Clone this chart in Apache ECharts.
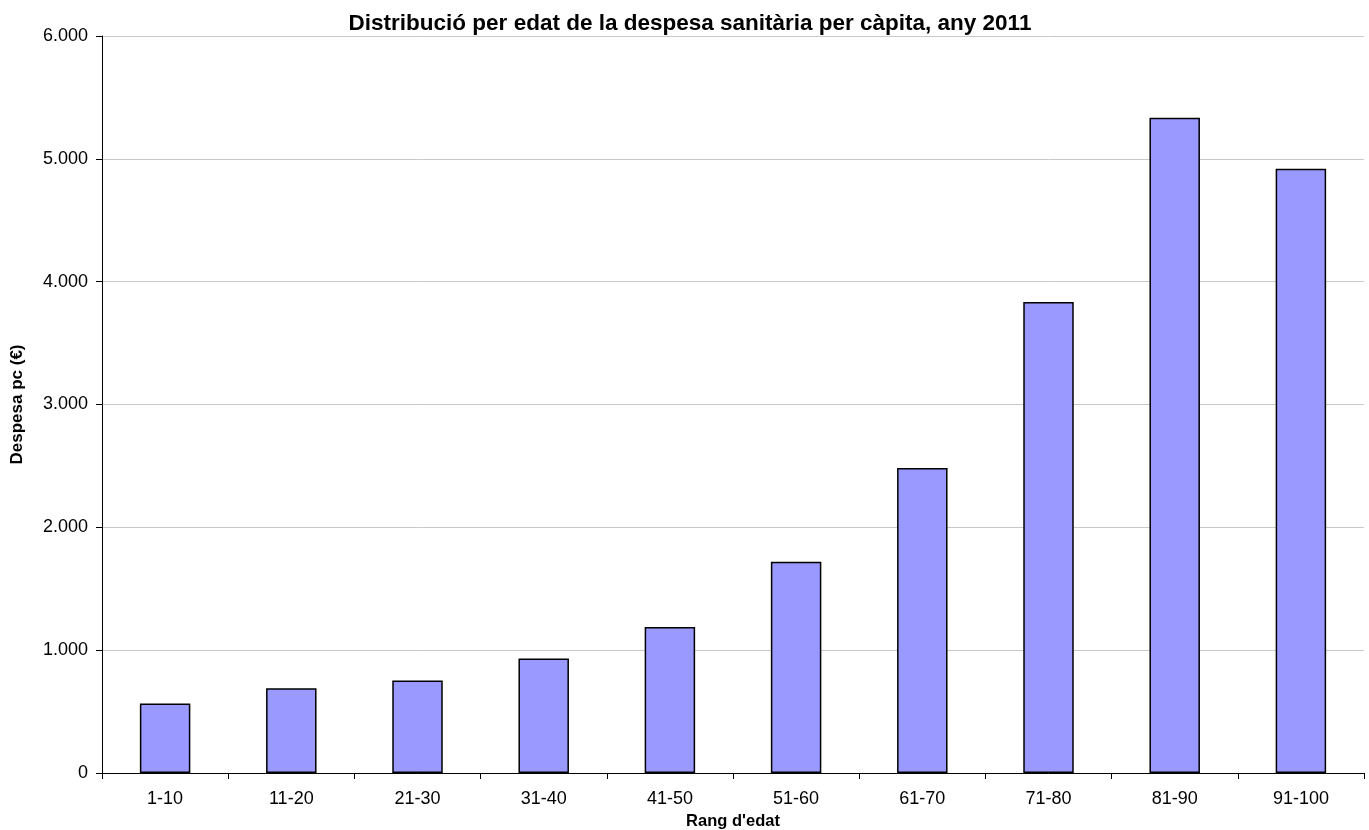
<!DOCTYPE html>
<html>
<head>
<meta charset="utf-8">
<script src="https://cdn.jsdelivr.net/npm/echarts@6/dist/echarts.min.js"></script>
<style>
html,body{margin:0;padding:0;background:#fff;}
#chart{width:1369px;height:830px;}
</style>
</head>
<body>
<div id="chart"></div>
<script>
const categories = ['1-10','11-20','21-30','31-40','41-50','51-60','61-70','71-80','81-90','91-100'];
const values = [565, 689, 754, 932, 1188, 1720, 2483, 3835, 5334, 4919];
const titleText = 'Distribució per edat de la despesa sanitària per càpita, any 2011';
const yName = 'Despesa pc (€)';
const xName = "Rang d'edat";

const chart = echarts.init(document.getElementById('chart'), null, {renderer:'canvas'});
const fontFam = '"Liberation Sans", Arial, sans-serif';
chart.setOption({
  animation:false,
  backgroundColor:'#fff',
  title:{
    text:titleText,
    left:685, top:7, textAlign:'center',
    textStyle:{fontFamily:fontFam,fontSize:22.5,fontWeight:'bold',color:'#000'}
  },
  grid:{left:102,right:5,top:36,bottom:57,containLabel:false,outerBoundsMode:'none'},
  xAxis:{
    type:'category',
    data:categories,
    boundaryGap:true,
    name:xName,
    nameLocation:'middle',
    nameGap:31,
    nameTextStyle:{fontFamily:fontFam,fontSize:16.5,fontWeight:'bold',color:'#000'},
    axisLine:{lineStyle:{color:'#000',width:1}},
    axisTick:{show:true,length:6,lineStyle:{color:'#000'}},
    axisLabel:{fontFamily:fontFam,fontSize:18,color:'#000',margin:17,interval:0},
    splitLine:{show:false}
  },
  yAxis:{
    type:'value',
    min:0,max:6000,interval:1000,
    name:yName,
    nameLocation:'middle',
    nameGap:76,
    nameTextStyle:{fontFamily:fontFam,fontSize:17,fontWeight:'bold',color:'#000'},
    axisLine:{show:true,lineStyle:{color:'#000',width:1}},
    axisTick:{show:true,length:6,lineStyle:{color:'#000'}},
    axisLabel:{fontFamily:fontFam,fontSize:18,color:'#000',margin:14,
      formatter:function(v){return String(v).replace(/\B(?=(\d{3})+(?!\d))/g,'.');}},
    splitLine:{show:true,lineStyle:{color:'#c8c8c8',width:1}}
  },
  series:[{
    type:'bar',
    data:values,
    barWidth:'40%',
    itemStyle:{color:'#9999FF',borderColor:'#000',borderWidth:1.5}
  }]
});
</script>
</body>
</html>
